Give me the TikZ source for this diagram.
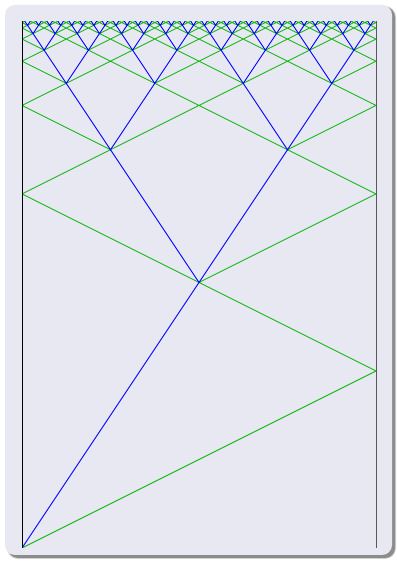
\documentclass[tikz,border=0pt]{standalone}
\definecolor{panelbg}{RGB}{232,232,242}
\definecolor{sigblue}{RGB}{0,0,255}
\definecolor{siggreen}{RGB}{25,185,25}
\tikzset{
  blueline/.style={draw=sigblue, line width=0.9pt},
  greenline/.style={draw=siggreen, line width=0.9pt},
  wall/.style={draw=black, line width=0.9pt}
}
\begin{document}
\begin{tikzpicture}[x=1pt,y=1pt]
\useasboundingbox (0,0) rectangle (396,561);
% shadow
\fill[black!18, rounded corners=11pt] (7,2) rectangle (396,555);
\fill[black!45, rounded corners=10pt] (8,3) rectangle (395,554);
% panel
\fill[panelbg, rounded corners=10pt] (5,6) rectangle (392,556);
\pgfmathsetmacro{\ytop}{3-1.5/64}
\begin{scope}[shift={(22pt,13pt)}, x=177pt, y=177pt]
  \begin{scope}
    \clip (0,0) rectangle (2,\ytop);
    % green signals, one single path so overlaps are painted once
    \draw[greenline] (0,0) -- (2,1) -- (0,2) -- (2,3)
      foreach \lev/\nn in {1/1,2/2,3/4,4/8,5/16,6/32} {
        foreach \j in {1,...,\nn} {
          foreach \k in {-2,...,2} {
            foreach \s in {1,-1} {
              ({\s*(2*\j-1)/2^(\lev-1)+4*\k}, {3-1.5/2^(\lev-1)})
                -- ++({2*(\ytop-3+1.5/2^(\lev-1))}, {\ytop-3+1.5/2^(\lev-1)})
              ({\s*(2*\j-1)/2^(\lev-1)+4*\k}, {3-1.5/2^(\lev-1)})
                -- ++({-2*(\ytop-3+1.5/2^(\lev-1))}, {\ytop-3+1.5/2^(\lev-1)})
            }
          }
        }
      };
    % blue tree
    \coordinate (root) at (0,0);
    \coordinate (n1) at (1,1.5);
    \draw[blueline] (root) -- (n1);
    \foreach \lev in {1,...,6}{
      \pgfmathtruncatemacro{\nn}{2^(\lev-1)}
      \pgfmathsetmacro{\yy}{3-1.5/2^(\lev-1)}
      \pgfmathsetmacro{\yn}{3-1.5/2^(\lev)}
      \pgfmathsetmacro{\ddx}{1/2^\lev}
      \foreach \j in {1,...,\nn}{
        \pgfmathsetmacro{\xx}{(2*\j-1)/2^(\lev-1)}
        \draw[blueline] (\xx-\ddx,\yn) -- (\xx,\yy) -- (\xx+\ddx,\yn);
      }
    }
  \end{scope}
  % walls
  \coordinate (lb) at (0,0);
  \coordinate (lt) at (0,\ytop);
  \coordinate (rb) at (2,0);
  \coordinate (rt) at (2,\ytop);
  \draw[wall] (lb) -- (lt);
  \draw[wall, draw=black!65] (rb) -- (rt);
\end{scope}
\end{tikzpicture}
\end{document}
